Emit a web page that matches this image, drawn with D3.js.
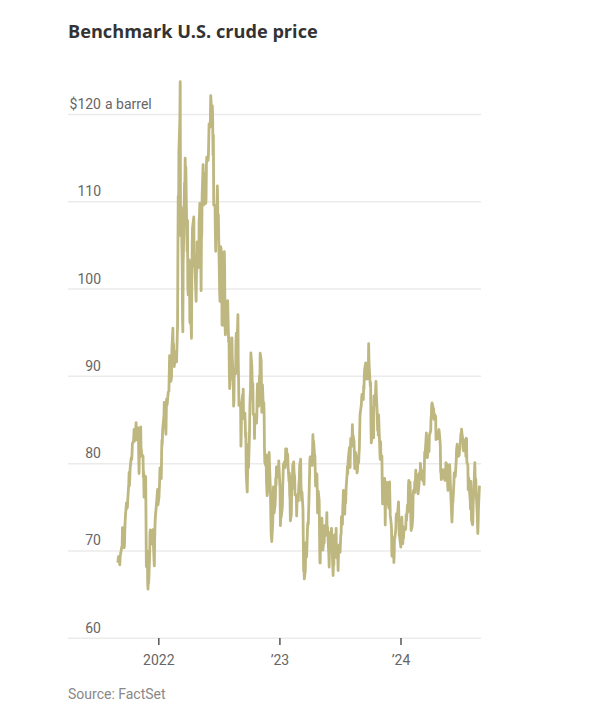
<!DOCTYPE html>
<html>
<head>
<meta charset="utf-8">
<script src="https://cdn.jsdelivr.net/npm/d3@7"></script>
<style>
  html, body { margin: 0; padding: 0; background: #fff; }
  svg { display: block; font-family: Roboto, "Noto Sans", sans-serif; }
</style>
</head>
<body>
<svg id="chart" width="610" height="720"></svg>
<script>
// ---- Data: WTI daily close (USD a barrel) ----
const wti2021 = [
["09-01",68.59],["09-03",69.29],["09-07",68.35],["09-08",69.30],["09-10",69.72],["09-13",70.45],["09-14",70.46],["09-15",72.61],["09-17",71.97],["09-20",70.29],["09-21",70.56],["09-22",72.23],["09-23",73.30],["09-24",73.98],["09-27",75.45],["09-28",75.29],["09-29",74.83],["09-30",75.03],
["10-01",75.88],["10-04",77.62],["10-05",78.93],["10-06",77.43],["10-07",78.30],["10-08",79.35],["10-11",80.52],["10-12",80.64],["10-13",80.44],["10-14",81.31],["10-15",82.28],["10-18",82.44],["10-19",82.96],["10-20",83.87],["10-21",82.50],["10-22",83.76],["10-25",83.76],["10-26",84.65],["10-27",82.66],["10-28",82.81],["10-29",83.57],
["11-01",84.05],["11-02",83.91],["11-03",80.86],["11-04",78.81],["11-05",81.27],["11-08",81.93],["11-09",84.15],["11-10",81.34],["11-11",81.59],["11-12",80.79],["11-15",80.88],["11-16",80.76],["11-17",78.36],["11-18",79.01],["11-19",76.10],["11-22",76.75],["11-23",78.50],["11-24",78.39],["11-26",68.15],["11-29",69.95],["11-30",66.18],
["12-01",65.57],["12-02",66.50],["12-03",66.26],["12-06",69.49],["12-07",72.05],["12-08",72.36],["12-09",70.94],["12-10",71.67],["12-13",71.29],["12-14",70.73],["12-15",70.87],["12-16",72.38],["12-17",70.86],["12-20",68.23],["12-21",71.12],["12-22",72.76],["12-23",73.79],["12-27",75.57],["12-28",75.98],["12-29",76.56],["12-30",76.99],["12-31",75.21]
];
const wti2022 = [
["01-03",76.08],["01-04",76.99],["01-05",77.85],["01-06",79.46],["01-07",78.90],["01-10",78.23],["01-11",81.22],["01-12",82.64],["01-13",82.12],["01-14",83.82],["01-18",85.43],["01-19",86.96],["01-20",86.90],["01-21",85.14],["01-24",83.31],["01-25",85.60],["01-26",87.35],["01-27",86.61],["01-28",86.82],["01-31",88.15],
["02-01",88.20],["02-02",88.26],["02-03",90.27],["02-04",92.31],["02-07",91.32],["02-08",89.36],["02-09",89.66],["02-10",89.88],["02-11",93.10],["02-14",95.46],["02-15",92.07],["02-16",93.66],["02-17",91.76],["02-18",91.07],["02-22",92.35],["02-23",92.10],["02-24",92.81],["02-25",91.59],["02-28",95.72],
["03-01",103.41],["03-02",110.60],["03-03",107.67],["03-04",115.68],["03-07",119.40],["03-08",123.70],["03-09",108.70],["03-10",106.02],["03-11",109.33],["03-14",103.01],["03-15",96.44],["03-16",95.04],["03-17",102.98],["03-18",104.70],["03-21",112.12],["03-22",111.76],["03-23",114.93],["03-24",112.34],["03-25",113.90],["03-28",105.96],["03-29",104.24],["03-30",107.82],["03-31",100.28],
["04-01",99.27],["04-04",103.28],["04-05",101.96],["04-06",96.23],["04-07",96.03],["04-08",98.26],["04-11",94.29],["04-12",100.60],["04-13",104.25],["04-14",106.95],["04-18",108.21],["04-19",102.56],["04-20",102.75],["04-21",103.79],["04-22",102.07],["04-25",98.54],["04-26",101.70],["04-27",102.02],["04-28",105.36],["04-29",104.69],
["05-02",105.17],["05-03",102.41],["05-04",107.81],["05-05",108.26],["05-06",109.77],["05-09",103.09],["05-10",99.76],["05-11",105.71],["05-12",106.13],["05-13",110.49],["05-16",114.20],["05-17",112.40],["05-18",109.59],["05-19",112.21],["05-20",113.23],["05-23",110.29],["05-24",109.77],["05-25",110.33],["05-26",114.09],["05-27",115.07],["05-31",114.67],
["06-01",115.26],["06-02",116.87],["06-03",118.87],["06-06",118.50],["06-07",119.41],["06-08",122.11],["06-09",121.51],["06-10",120.67],["06-13",120.93],["06-14",118.93],["06-15",115.31],["06-16",117.59],["06-17",109.56],["06-21",109.52],["06-22",106.19],["06-23",104.27],["06-24",107.62],["06-27",109.57],["06-28",111.76],["06-29",109.78],["06-30",105.76],
["07-01",108.43],["07-05",99.50],["07-06",98.53],["07-07",102.73],["07-08",104.79],["07-11",104.09],["07-12",95.84],["07-13",96.30],["07-14",95.78],["07-15",97.59],["07-18",102.60],["07-19",104.22],["07-20",102.26],["07-21",96.35],["07-22",94.70],["07-25",96.70],["07-26",94.98],["07-27",97.26],["07-28",96.42],["07-29",98.62],
["08-01",93.89],["08-02",94.42],["08-03",90.66],["08-04",88.54],["08-05",89.01],["08-08",90.76],["08-09",90.50],["08-10",91.93],["08-11",94.34],["08-12",92.09],["08-15",89.41],["08-16",86.53],["08-17",87.11],["08-18",90.50],["08-19",90.77],["08-22",90.23],["08-23",93.74],["08-24",94.89],["08-25",92.52],["08-26",93.06],["08-29",97.01],["08-30",91.64],["08-31",89.55],
["09-01",86.61],["09-02",86.87],["09-06",86.88],["09-07",81.94],["09-08",83.54],["09-09",86.79],["09-12",87.78],["09-13",87.31],["09-14",88.48],["09-15",85.10],["09-16",85.11],["09-19",85.73],["09-20",84.45],["09-21",82.94],["09-22",83.49],["09-23",78.74],["09-26",76.71],["09-27",78.50],["09-28",82.15],["09-29",81.23],["09-30",79.49],
["10-03",83.63],["10-04",86.52],["10-05",87.76],["10-06",88.45],["10-07",92.64],["10-10",91.13],["10-11",89.35],["10-12",87.27],["10-13",89.11],["10-14",85.61],["10-17",85.46],["10-18",82.82],["10-19",85.55],["10-20",84.51],["10-21",85.05],["10-24",84.58],["10-25",85.32],["10-26",87.91],["10-27",89.08],["10-28",87.90],["10-31",86.53],
["11-01",88.37],["11-02",90.00],["11-03",88.17],["11-04",92.61],["11-07",91.79],["11-08",88.91],["11-09",85.83],["11-10",86.47],["11-11",88.96],["11-14",85.87],["11-15",86.92],["11-16",85.59],["11-17",81.64],["11-18",80.08],["11-21",79.73],["11-22",80.95],["11-23",77.94],["11-25",76.28],["11-28",77.24],["11-29",78.20],["11-30",80.55],
["12-01",81.22],["12-02",79.98],["12-05",76.93],["12-06",74.25],["12-07",72.01],["12-08",71.46],["12-09",71.02],["12-12",73.17],["12-13",75.39],["12-14",77.28],["12-15",76.11],["12-16",74.29],["12-19",75.19],["12-20",76.23],["12-21",78.29],["12-22",77.49],["12-23",79.56],["12-27",79.53],["12-28",78.96],["12-29",78.40],["12-30",80.26]
];
const wti2023 = [
["01-03",76.93],["01-04",72.84],["01-05",73.67],["01-06",73.77],["01-09",74.63],["01-10",75.12],["01-11",77.41],["01-12",78.39],["01-13",79.86],["01-17",80.18],["01-18",79.48],["01-19",80.33],["01-20",81.64],["01-23",81.62],["01-24",80.13],["01-25",80.15],["01-26",81.01],["01-27",79.68],["01-30",77.90],["01-31",78.87],
["02-01",76.41],["02-02",75.88],["02-03",73.39],["02-06",74.11],["02-07",77.14],["02-08",78.47],["02-09",77.06],["02-10",79.72],["02-13",80.14],["02-14",79.06],["02-15",78.59],["02-16",78.49],["02-17",76.34],["02-21",76.36],["02-22",73.95],["02-23",75.39],["02-24",76.32],["02-27",75.68],["02-28",77.05],
["03-01",77.69],["03-02",78.16],["03-03",79.68],["03-06",80.46],["03-07",77.58],["03-08",76.66],["03-09",75.72],["03-10",76.68],["03-13",74.80],["03-14",71.33],["03-15",67.61],["03-16",68.35],["03-17",66.74],["03-20",67.64],["03-21",69.33],["03-22",70.90],["03-23",69.96],["03-24",69.26],["03-27",72.81],["03-28",73.20],["03-29",72.97],["03-30",74.37],["03-31",75.67],
["04-03",80.42],["04-04",80.71],["04-05",80.61],["04-06",80.70],["04-10",79.74],["04-11",81.53],["04-12",83.26],["04-13",82.16],["04-14",82.52],["04-17",80.83],["04-18",80.86],["04-19",79.16],["04-20",77.37],["04-21",77.87],["04-24",78.76],["04-25",77.07],["04-26",74.30],["04-27",74.76],["04-28",76.78],
["05-01",75.66],["05-02",71.66],["05-03",68.60],["05-04",68.56],["05-05",71.34],["05-08",73.16],["05-09",73.71],["05-10",72.56],["05-11",70.87],["05-12",70.04],["05-15",71.11],["05-16",70.86],["05-17",72.83],["05-18",71.86],["05-19",71.69],["05-22",71.99],["05-23",72.91],["05-24",74.34],["05-25",71.83],["05-26",72.67],["05-30",69.46],["05-31",68.09],
["06-01",70.10],["06-02",71.74],["06-05",72.15],["06-06",71.74],["06-07",72.53],["06-08",71.29],["06-09",70.17],["06-12",67.12],["06-13",69.42],["06-14",68.27],["06-15",70.62],["06-16",71.78],["06-20",70.50],["06-21",72.53],["06-22",69.51],["06-23",69.16],["06-26",69.37],["06-27",67.70],["06-28",69.56],["06-29",69.86],["06-30",70.64],
["07-03",69.79],["07-05",71.79],["07-06",71.80],["07-07",73.86],["07-10",72.99],["07-11",74.83],["07-12",75.75],["07-13",76.89],["07-14",75.42],["07-17",74.15],["07-18",75.75],["07-19",75.35],["07-20",75.63],["07-21",77.07],["07-24",78.74],["07-25",79.63],["07-26",78.78],["07-27",80.09],["07-28",80.58],["07-31",81.80],
["08-01",81.37],["08-02",79.49],["08-03",81.55],["08-04",82.82],["08-07",81.94],["08-08",82.92],["08-09",84.40],["08-10",82.82],["08-11",83.19],["08-14",82.51],["08-15",80.99],["08-16",79.38],["08-17",80.39],["08-18",81.25],["08-21",80.72],["08-22",79.64],["08-23",78.89],["08-24",79.05],["08-25",79.83],["08-28",80.10],["08-29",81.16],["08-30",81.63],["08-31",83.63],
["09-01",85.55],["09-05",86.69],["09-06",87.54],["09-07",87.87],["09-08",87.51],["09-11",87.29],["09-12",88.84],["09-13",88.52],["09-14",90.16],["09-15",90.77],["09-18",91.48],["09-19",91.20],["09-20",90.28],["09-21",89.63],["09-22",90.03],["09-25",89.68],["09-26",90.39],["09-27",93.68],["09-28",91.71],["09-29",90.79],
["10-02",88.82],["10-03",89.23],["10-04",84.22],["10-05",82.31],["10-06",82.79],["10-09",86.38],["10-10",85.97],["10-11",83.49],["10-12",82.91],["10-13",87.69],["10-16",86.66],["10-17",86.66],["10-18",88.32],["10-19",89.37],["10-20",88.08],["10-23",85.49],["10-24",83.74],["10-25",85.39],["10-26",83.21],["10-27",85.54],["10-30",82.31],["10-31",81.02],
["11-01",80.44],["11-02",82.46],["11-03",80.51],["11-06",80.82],["11-07",77.37],["11-08",75.33],["11-09",75.74],["11-10",77.17],["11-13",78.26],["11-14",78.26],["11-15",76.66],["11-16",72.90],["11-17",75.89],["11-20",77.83],["11-21",77.77],["11-22",77.10],["11-24",75.54],["11-27",74.86],["11-28",76.41],["11-29",77.86],["11-30",75.96],
["12-01",74.07],["12-04",73.04],["12-05",72.32],["12-06",69.38],["12-07",69.34],["12-08",71.23],["12-11",71.32],["12-12",68.61],["12-13",69.47],["12-14",71.58],["12-15",71.43],["12-18",72.47],["12-19",73.94],["12-20",74.22],["12-21",73.89],["12-22",73.56],["12-26",75.57],["12-27",74.11],["12-28",71.77],["12-29",71.65]
];
const wti2024 = [
["01-02",70.38],["01-03",72.70],["01-04",72.19],["01-05",73.81],["01-08",70.77],["01-09",72.24],["01-10",71.37],["01-11",72.02],["01-12",72.68],["01-16",72.40],["01-17",72.56],["01-18",74.08],["01-19",73.41],["01-22",75.19],["01-23",74.37],["01-24",75.09],["01-25",77.36],["01-26",78.01],["01-29",76.78],["01-30",77.82],["01-31",75.85],
["02-01",73.82],["02-02",72.28],["02-05",72.78],["02-06",73.31],["02-07",73.86],["02-08",76.22],["02-09",76.84],["02-12",76.92],["02-13",77.87],["02-14",76.64],["02-15",78.03],["02-16",79.19],["02-20",77.04],["02-21",77.91],["02-22",78.61],["02-23",76.49],["02-26",77.58],["02-27",78.87],["02-28",78.54],["02-29",78.26],
["03-01",79.97],["03-04",78.74],["03-05",78.15],["03-06",79.13],["03-07",78.93],["03-08",78.01],["03-11",77.93],["03-12",77.56],["03-13",79.72],["03-14",81.26],["03-15",81.04],["03-18",82.72],["03-19",83.47],["03-20",81.68],["03-21",81.07],["03-22",80.63],["03-25",81.95],["03-26",81.62],["03-27",81.35],["03-28",83.17],
["04-01",83.71],["04-02",85.15],["04-03",85.43],["04-04",86.59],["04-05",86.91],["04-08",86.43],["04-09",85.23],["04-10",86.21],["04-11",85.02],["04-12",85.66],["04-15",85.41],["04-16",85.36],["04-17",82.69],["04-18",82.73],["04-19",83.14],["04-22",82.85],["04-23",83.36],["04-24",82.81],["04-25",83.57],["04-26",83.85],["04-29",82.63],["04-30",81.93],
["05-01",79.00],["05-02",78.95],["05-03",78.11],["05-06",78.48],["05-07",78.38],["05-08",78.99],["05-09",79.26],["05-10",78.26],["05-13",79.12],["05-14",78.02],["05-15",78.63],["05-16",79.23],["05-17",80.06],["05-20",79.80],["05-21",79.26],["05-22",77.57],["05-23",76.87],["05-24",77.72],["05-28",79.83],["05-29",79.23],["05-30",77.91],["05-31",76.99],
["06-03",74.22],["06-04",73.25],["06-05",74.07],["06-06",75.55],["06-07",75.53],["06-10",77.74],["06-11",78.90],["06-12",78.50],["06-13",78.62],["06-14",78.45],["06-17",80.33],["06-18",81.57],["06-20",82.17],["06-21",80.73],["06-24",81.63],["06-25",80.83],["06-26",80.90],["06-27",81.74],["06-28",81.54],
["07-01",83.38],["07-02",82.81],["07-03",83.88],["07-05",83.16],["07-08",82.33],["07-09",81.41],["07-10",82.10],["07-11",82.62],["07-12",82.21],["07-15",81.91],["07-16",80.76],["07-17",82.85],["07-18",82.82],["07-19",80.13],["07-22",79.78],["07-23",76.96],["07-24",77.59],["07-25",78.28],["07-26",77.16],["07-29",75.81],["07-30",74.73],["07-31",77.91],
["08-01",76.31],["08-02",73.52],["08-05",72.94],["08-06",73.20],["08-07",75.23],["08-08",76.19],["08-09",76.84],["08-12",80.06],["08-13",78.35],["08-14",76.98],["08-15",78.16],["08-16",76.65],["08-19",74.37],["08-20",73.17],["08-21",71.93],["08-22",73.01],["08-23",74.83],["08-26",77.42]
];

const yTicks = [60, 70, 80, 90, 100, 110, 120];
const yTickLabels = ["60", "70", "80", "90", "100", "110", "$120"];
const yUnitLabel = "a barrel";
const xTickDates = ["2022-01-01", "2023-01-01", "2024-01-01"];
const xTickLabels = ["2022", "\u201923", "\u201924"];
const titleText = "Benchmark U.S. crude price";
const sourceText = "Source: FactSet";

// ---- Build series ----
const parse = d3.timeParse("%Y-%m-%d");
const years = [[2021, wti2021], [2022, wti2022], [2023, wti2023], [2024, wti2024]];
const series = [];
years.forEach(([yr, arr]) => arr.forEach(([md, v]) => series.push({ date: parse(yr + "-" + md), value: v })));

// ---- Layout ----
const svg = d3.select("#chart");
const left = 68, right = 481;

const x = d3.scaleTime()
  .domain([parse("2022-01-01"), parse("2024-01-01")])
  .range([158.3, 400.5]);
const y = d3.scaleLinear().domain([60, 120]).range([637.7, 114]);

// Title (fit to the reference's width)
const title = svg.append("text")
  .attr("x", left).attr("y", 38)
  .attr("font-family", "'Open Sans', Roboto, sans-serif")
  .attr("font-size", 18).attr("font-weight", 700)
  .attr("fill", "#333")
  .text(titleText);
const tw = title.node().getComputedTextLength();
if (tw > 0) title.attr("font-size", Math.max(15, Math.min(21, 18 * 250 / tw)));

// Gridlines
const grid = svg.append("g").attr("transform", `translate(${left},0)`)
  .call(d3.axisRight(y).tickValues(yTicks).tickSize(right - left).tickFormat(""));
grid.select(".domain").remove();
grid.selectAll(".tick line").attr("stroke", "#ebebeb").attr("stroke-width", 1.5);

// Y labels
const yl = svg.append("g").attr("font-size", 14).attr("fill", "#666");
yTicks.forEach((t, i) => {
  yl.append("text")
    .attr("x", 101).attr("y", y(t) - 5)
    .attr("text-anchor", "end")
    .text(yTickLabels[i]);
});
yl.append("text")
  .attr("x", 105).attr("y", y(120) - 5)
  .text(yUnitLabel);

// X axis
const xa = svg.append("g").attr("transform", "translate(0,638)")
  .call(d3.axisBottom(x).tickValues(xTickDates.map(parse)).tickSize(7)
    .tickFormat((d, i) => xTickLabels[i]));
xa.select(".domain").remove();
xa.selectAll(".tick line").attr("stroke", "#555").attr("stroke-width", 1.5);
xa.selectAll(".tick text")
  .attr("y", 27).attr("dy", 0)
  .attr("font-size", 14).attr("fill", "#666")
  .attr("font-family", "Roboto, 'Noto Sans', sans-serif");

// Line
const line = d3.line().x(d => x(d.date)).y(d => y(d.value));
svg.append("path")
  .datum(series)
  .attr("d", line)
  .attr("fill", "none")
  .attr("stroke", "#beb780")
  .attr("stroke-width", 2.8)
  .attr("stroke-linejoin", "round");

// Source
svg.append("text")
  .attr("x", left).attr("y", 699)
  .attr("font-size", 14).attr("fill", "#888")
  .text(sourceText);
</script>
</body>
</html>
